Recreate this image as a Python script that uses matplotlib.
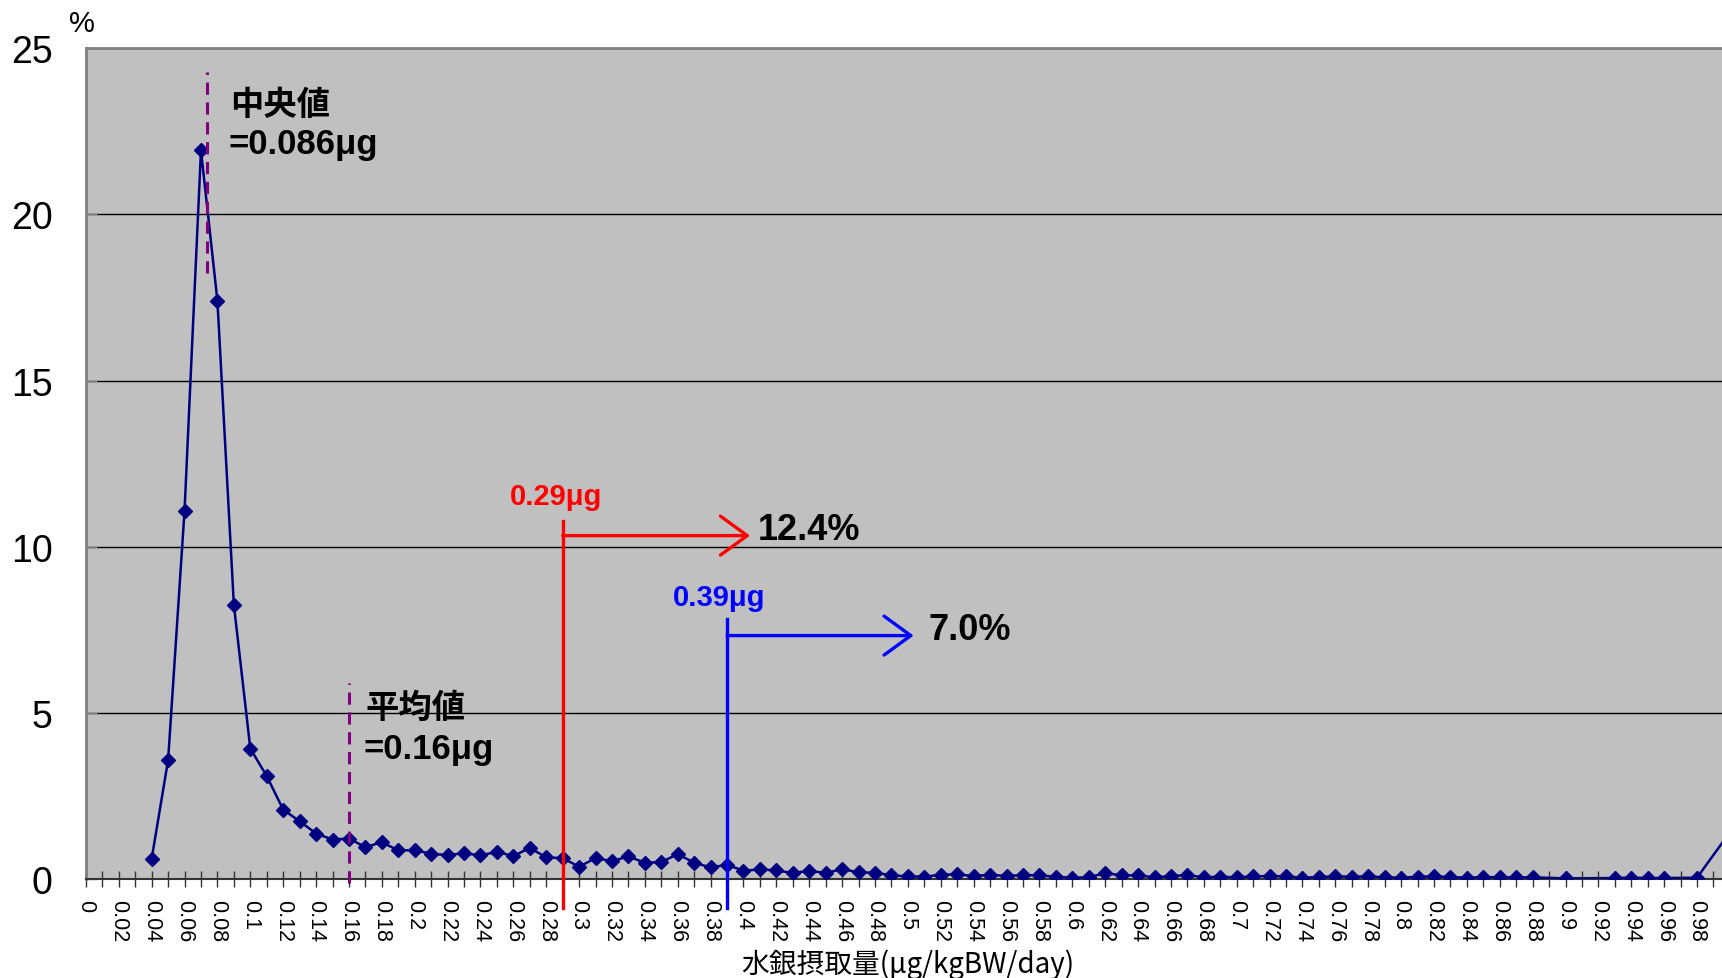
import numpy as np
import matplotlib
matplotlib.use("Agg")
import matplotlib.pyplot as plt

plt.rcParams['font.family'] = ['Liberation Sans', 'Noto Sans CJK JP', 'DejaVu Sans']
jp = ['Noto Sans CJK JP', 'DejaVu Sans']

# categories 0.00 .. 1.00 (step 0.01), nan = no data
intake = np.round(np.arange(0, 101) * 0.01, 2)
pct = [np.nan, np.nan, np.nan, np.nan,
       0.6, 3.57, 11.08, 21.93, 17.4, 8.25,
       3.92, 3.09, 2.08, 1.73, 1.36, 1.18, 1.21, 0.95, 1.1, 0.85,
       0.86, 0.75, 0.71, 0.77, 0.7, 0.81, 0.68, 0.93, 0.64, 0.62,
       0.36, 0.62, 0.53, 0.67, 0.48, 0.5, 0.74, 0.48, 0.34, 0.42,
       0.24, 0.28, 0.25, 0.17, 0.24, 0.17, 0.29, 0.19, 0.18, 0.1,
       0.07, 0.06, 0.12, 0.13, 0.08, 0.12, 0.08, 0.11, 0.1, 0.06,
       0.03, 0.04, 0.17, 0.1, 0.1, 0.04, 0.08, 0.11, 0.04, 0.06,
       0.04, 0.07, 0.08, 0.07, 0.03, 0.05, 0.07, 0.06, 0.07, 0.04,
       0.03, 0.06, 0.07, 0.05, 0.03, 0.05, 0.04, 0.04, 0.04, np.nan,
       0.01, np.nan, np.nan, 0.02, 0.03, 0.02, 0.02, np.nan, 0.03, np.nan,
       1.4]
pct = np.array(pct)

median_x = 0.0735
mean_x = 0.16
cut1 = 0.29
cut2 = 0.39
cut1_pct = "12.4%"
cut2_pct = "7.0%"

fig = plt.figure(figsize=(17.22, 9.79), dpi=100)
W, H = 1722, 979
left_px, right_px, top_px, bot_px = 85.9, 1729.9, 49.4, 879.7
ax = fig.add_axes([left_px / W, 1 - bot_px / H, (right_px - left_px) / W, (bot_px - top_px) / H])
ax.set_facecolor('#c0c0c0')

ok = ~np.isnan(pct)
ax.plot(intake[ok], pct[ok], color='#000080', lw=1.8, marker='D', ms=7.5,
        mfc='#000080', mec='#000080', zorder=5)

ax.set_xlim(0, 1.0)
ax.set_ylim(0, 25)
ax.set_yticks([0, 5, 10, 15, 20, 25])
ax.grid(axis='y', color='black', lw=1)
ax.set_axisbelow(True)

ax.set_xticks(intake)
ax.set_xticklabels([('%g' % v) if i % 2 == 0 else '' for i, v in enumerate(intake)],
                   rotation=-90, fontsize=15.5)
ax.tick_params(axis='x', direction='inout', length=11, width=1, color='#333333', pad=9)
ax.tick_params(axis='y', direction='in', length=8, width=1, color='#808080', labelsize=27, pad=24)

for s in ['left', 'top']:
    ax.spines[s].set_color('#808080')
    ax.spines[s].set_linewidth(2)
ax.spines['bottom'].set_color('#333333')
ax.spines['bottom'].set_linewidth(1.5)
ax.spines['right'].set_visible(False)

ax.set_xlabel('水銀摂取量(μg/kgBW/day)', fontsize=20, family=jp, va='center')
ax.xaxis.set_label_coords(0.5, -0.1025)
fig.text(82 / W, 1 - 24 / H, '%', fontsize=21, ha='center', va='center')

# median / mean
ax.plot([median_x, median_x], [18.25, 24.3], color='#800080', lw=2.2, ls=(0, (4, 2.5)), zorder=6)
ax.plot([mean_x, mean_x], [-0.13, 5.9], color='#800080', lw=2.2, ls=(0, (4, 2.5)), zorder=6, clip_on=False)
ax.text(0.0878, 23.3, '中央値', fontsize=24, fontweight='bold', family=jp, va='center')
ax.text(0.0865, 22.15, '=0.086μg', fontsize=25, fontweight='bold', va='center')
ax.text(0.170, 5.16, '平均値', fontsize=24, fontweight='bold', family=jp, va='center')
ax.text(0.1689, 3.91, '=0.16μg', fontsize=25, fontweight='bold', va='center')

# thresholds
for xc, ytop, yarr, xend, col, lab, ylab, xlab, ptxt, xp in [
        (cut1, 10.77, 10.33, 0.404, 'red', '0.29μg', 11.52, 0.2577, cut1_pct, 0.4087),
        (cut2, 7.82, 7.32, 0.5035, 'blue', '0.39μg', 8.48, 0.3571, cut2_pct, 0.5128)]:
    ax.plot([xc, xc], [-0.89, ytop], color=col, lw=2.4, clip_on=False, zorder=7)
    ax.annotate('', xy=(xend, yarr), xytext=(xc, yarr),
                arrowprops=dict(arrowstyle='->,head_length=0.55,head_width=0.4', color=col,
                                lw=2.4, mutation_scale=35, shrinkA=0, shrinkB=0), zorder=7)
    ax.text(xlab, ylab, lab, color=col, fontsize=21, fontweight='bold', va='center')
    ax.text(xp, yarr + 0.18, ptxt, color='black', fontsize=26, fontweight='bold', va='center')

fig.savefig('out.png', dpi=100)
